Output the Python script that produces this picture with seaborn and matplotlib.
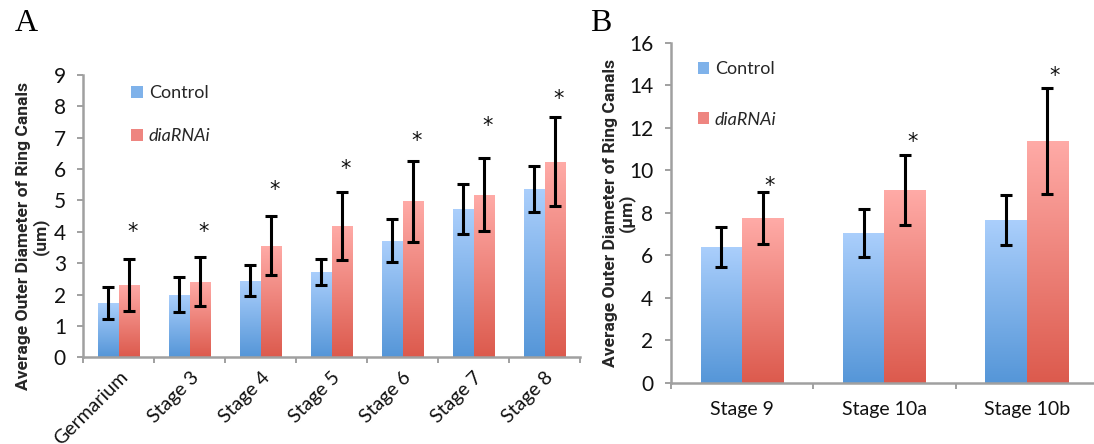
import numpy as np
import pandas as pd
import matplotlib
matplotlib.use("Agg")
import matplotlib.pyplot as plt
import seaborn as sns
from matplotlib.patches import Patch
from matplotlib.colors import to_rgb

# ---------------- data ----------------
stages_a = ["Germarium", "Stage 3", "Stage 4", "Stage 5", "Stage 6", "Stage 7", "Stage 8"]
control_a = [1.73, 2.00, 2.44, 2.72, 3.72, 4.72, 5.36]
control_a_err = [0.50, 0.57, 0.50, 0.42, 0.69, 0.79, 0.73]
rnai_a = [2.31, 2.41, 3.56, 4.18, 4.98, 5.18, 6.24]
rnai_a_err = [0.82, 0.78, 0.93, 1.08, 1.29, 1.16, 1.43]
star_a = [4.22, 4.22, 5.57, 6.24, 7.14, 7.59, 8.47]

stages_b = ["Stage 9", "Stage 10a", "Stage 10b"]
control_b = [6.40, 7.06, 7.67]
control_b_err = [0.93, 1.12, 1.16]
rnai_b = [7.75, 9.08, 11.38]
rnai_b_err = [1.23, 1.63, 2.49]
star_b = [9.59, 11.66, 14.76]

groups = ["Control", "diaRNAi"]

# ---------------- style ----------------
sns.set_theme(style="white")
plt.rcParams["font.family"] = ["Lato", "DejaVu Sans"]

blue_top, blue_bot = "#abcffc", "#5596d8"
red_top, red_bot = "#ffaba7", "#dc5a4d"
grad_cols = {"Control": (blue_top, blue_bot), "diaRNAi": (red_top, red_bot)}
spine_col = "#a0a0a0"

fig = plt.figure(figsize=(10.94, 4.44), dpi=100)
axA = fig.add_axes([83.3 / 1094, 1 - 357.3 / 444, (580 - 83.3) / 1094, (357.3 - 75) / 444])
axB = fig.add_axes([670.7 / 1094, 1 - 383.0 / 444, (1098 - 670.7) / 1094, (383.0 - 42.7) / 444])


def gradient_fill(ax, patch, top, bot):
    x, y = patch.get_x(), patch.get_y()
    w, h = patch.get_width(), patch.get_height()
    t = np.array(to_rgb(top))
    b = np.array(to_rgb(bot))
    f = np.linspace(0, 1, 256)[:, None]
    img = (t * (1 - f) + b * f)[:, None, :]
    im = ax.imshow(img, extent=[x, x + w, y, y + h], aspect="auto",
                   origin="upper", zorder=1.5, interpolation="bilinear")
    im.set_clip_path(patch)
    patch.set_facecolor("none")
    patch.set_edgecolor("none")


def panel(ax, stages, c, ce, r, re, stars, ymax, ystep, ylabel, rot, anchor, spacing, xpad):
    df = pd.DataFrame({
        "stage": stages * 2,
        "value": c + r,
        "err": ce + re,
        "group": [groups[0]] * len(stages) + [groups[1]] * len(stages),
    })
    sns.barplot(data=df, x="stage", y="value", hue="group", hue_order=groups,
                order=stages, width=0.58, gap=0, errorbar=None, ax=ax,
                palette=[blue_bot, red_bot], legend=False)
    n = len(stages)
    bars = list(ax.patches)
    for i, p in enumerate(bars):
        g = groups[i // n]
        gradient_fill(ax, p, *grad_cols[g])
    for i, p in enumerate(bars):
        g = i // n
        k = i % n
        val = df["value"].iloc[i]
        err = df["err"].iloc[i]
        xc = p.get_x() + p.get_width() / 2
        ax.errorbar(xc, val, yerr=err, fmt="none", ecolor="black",
                    elinewidth=2.2, capsize=4, capthick=2.2, zorder=3)
        if g == 1:
            ax.annotate("*", (xc + 0.05, stars[k]), xytext=(0, -9.5),
                        textcoords="offset points", ha="center", va="baseline",
                        fontsize=15, family="DejaVu Sans", color="#111111", zorder=4)
    ax.set_xlim(-0.5, n - 0.5)
    ax.set_ylim(0, ymax)
    ax.set_yticks(np.arange(0, ymax + 0.01, ystep))
    ax.set_xlabel("")
    ax.set_ylabel(ylabel, fontsize=12.6, fontweight="bold", family="Roboto",
                  linespacing=1.05)
    for s in ["top", "right"]:
        ax.spines[s].set_visible(False)
    for s in ["left", "bottom"]:
        ax.spines[s].set_color(spine_col)
        ax.spines[s].set_linewidth(1.8)
        ax.spines[s].set_zorder(2.5)
    ax.tick_params(axis="y", which="major", direction="out", length=4.5, width=1.4,
                   color=spine_col, labelsize=15, pad=8, left=True, labelcolor="#111111")
    ax.set_xticks(np.arange(-0.5, n, 1.0), minor=True)
    ax.tick_params(axis="x", which="minor", direction="out", length=4.5, width=1.4,
                   color=spine_col, bottom=True)
    ax.tick_params(axis="x", which="major", length=0, labelsize=14,
                   labelcolor="#111111", pad=xpad)
    if rot:
        for lab in ax.get_xticklabels():
            lab.set_rotation(45)
            lab.set_ha("right")
            lab.set_va("top")
            lab.set_rotation_mode("anchor")
    handles = [Patch(facecolor="#7fb2ea", edgecolor="none"),
               Patch(facecolor="#ee8580", edgecolor="none")]
    leg = ax.legend(handles, groups, loc="upper left", bbox_to_anchor=anchor,
                    bbox_transform=ax.transAxes,
                    frameon=False, fontsize=13, handlelength=0.65, handleheight=0.65,
                    handletextpad=0.3, labelspacing=spacing, borderaxespad=0,
                    borderpad=0)
    leg.get_texts()[1].set_fontstyle("italic")
    return ax


panel(axA, stages_a, control_a, control_a_err, rnai_a, rnai_a_err, star_a, 9, 1,
      "Average Outer Diameter of Ring Canals\n(um)", True, (0.097, 0.965), 1.5, 8)
panel(axB, stages_b, control_b, control_b_err, rnai_b, rnai_b_err, star_b, 16, 2,
      "Average Outer Diameter of Ring Canals\n(\u00b5m)", False, (0.063, 0.945), 1.9, 13)

axA.yaxis.set_label_coords(-0.07, 0.43)
axB.yaxis.set_label_coords(-0.083, 0.5)

fig.text(15 / 1094, 1 - 31 / 444, "A", fontsize=23, family="Liberation Serif", color="black")
fig.text(590 / 1094, 1 - 31 / 444, "B", fontsize=23, family="Liberation Serif", color="black")

fig.savefig("out.png", dpi=100)
